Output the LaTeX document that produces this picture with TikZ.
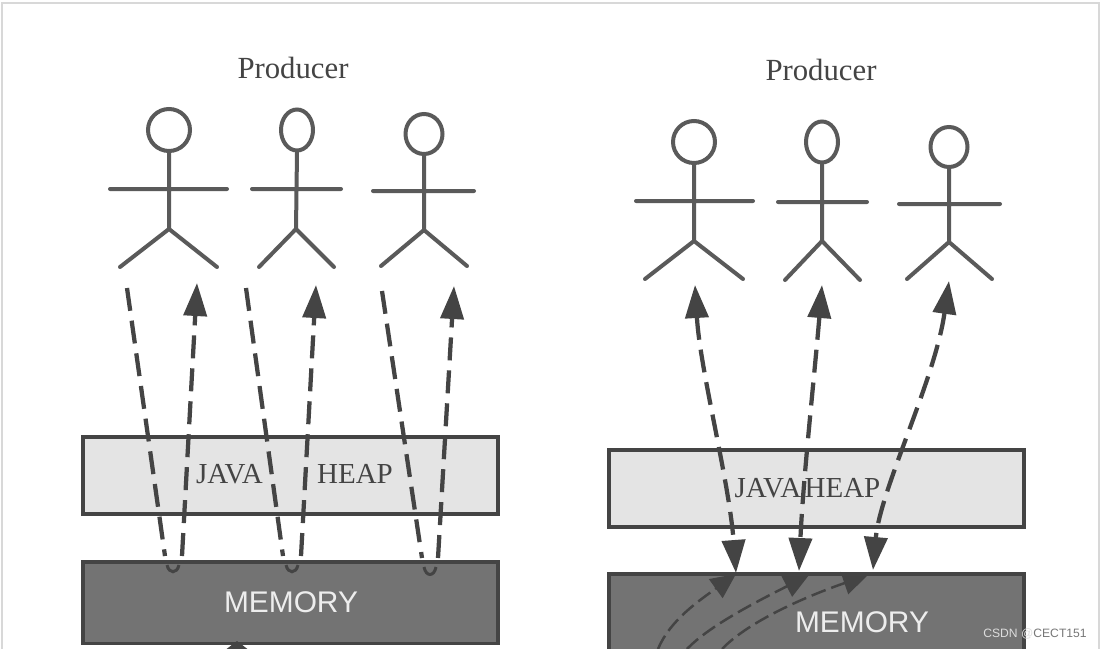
\documentclass[tikz,border=0pt]{standalone}
\usepackage{fontspec}
\setmainfont{Liberation Serif}
\setsansfont{Liberation Sans}
\usetikzlibrary{arrows.meta,shapes.geometric}
\definecolor{Ink}{HTML}{444444}
\definecolor{Limb}{HTML}{5A5A5A}
\definecolor{Heap}{HTML}{E4E4E4}
\definecolor{Memory}{HTML}{737373}
\definecolor{Frame}{HTML}{D8D8D8}
\definecolor{MemText}{HTML}{EDEDED}
\definecolor{MarkLight}{HTML}{DDDDDD}
\definecolor{MarkDark}{HTML}{777777}
\begin{document}
\begin{tikzpicture}[x=0.02cm,y=-0.02cm,font=\rmfamily,text=Ink,head/.style={draw=Limb,line width=0.8mm,shape=ellipse,inner sep=0pt},limb/.style={draw=Limb,line width=0.8mm,line cap=round},title/.style={font=\fontsize{17.5}{20}\selectfont},heapbox/.style={draw=Ink,fill=Heap,line width=0.8mm,minimum width=8.3cm,minimum height=1.56cm,inner sep=0pt},membox/.style={draw=Ink,fill=Memory,line width=0.8mm,minimum width=8.3cm,minimum height=1.64cm,inner sep=0pt},heaplabel/.style={font=\fontsize{16.5}{20}\selectfont},memlabel/.style={text=MemText,font=\sffamily\fontsize{17}{20}\selectfont},flow/.style={draw=Ink,line width=0.85mm,dash pattern=on 4.6mm off 2mm},up/.style={flow,-{Triangle[length=6.6mm,width=4.6mm]}},both/.style={flow,{Triangle[length=6.6mm,width=4.6mm]}-{Triangle[length=6.6mm,width=4.6mm]}},inner/.style={draw=Ink,line width=0.5mm,dash pattern=on 3mm off 1.2mm,-{Triangle[length=5mm,width=4.6mm]}},cup/.style={draw=Ink,line width=0.6mm}]
\clip (0,0) rectangle (1102,649);
\fill[white] (0,0) rectangle (1102,649);
\draw[Frame,line width=0.5mm] (2,3) rectangle (1099,700);
\node[title] (prodL) at (293,68){Producer};
\node[title] (prodR) at (821,70){Producer};
\node[head,minimum width=0.84cm,minimum height=0.84cm] (headA) at (169,130){};
\node[head,minimum width=0.64cm,minimum height=0.82cm] (headB) at (297,130){};
\node[head,minimum width=0.74cm,minimum height=0.8cm] (headC) at (424,134){};
\node[head,minimum width=0.84cm,minimum height=0.84cm] (headD) at (694,142){};
\node[head,minimum width=0.64cm,minimum height=0.82cm] (headE) at (822,142){};
\node[head,minimum width=0.74cm,minimum height=0.8cm] (headF) at (949,147){};
\draw[limb] (headA.south) -- (169,229) (110,189) -- (227,189) (120,267) -- (169,229) -- (217,267);
\draw[limb] (headB.south) -- (296,229) (252,189) -- (341,189) (259,267) -- (296,229) -- (334,267);
\draw[limb] (headC.south) -- (424,230) (373,191) -- (474,191) (381,266) -- (424,230) -- (467,266);
\draw[limb] (headD.south) -- (694,241) (636,201) -- (753,201) (645,279) -- (694,241) -- (743,279);
\draw[limb] (headE.south) -- (822,241) (778,202) -- (867,202) (785,280) -- (822,241) -- (860,280);
\draw[limb] (headF.south) -- (949,242) (899,204) -- (1000,204) (907,279) -- (949,242) -- (992,279);
\node[heapbox] (heapL) at (290.5,475.5){};
\node[membox] (memL) at (290.5,602.5){};
\node[heapbox] (heapR) at (816.5,488.5){};
\node[membox] (memR) at (816.5,615){};
\node[heaplabel] (javaL) at (229.5,474){JAVA};
\node[heaplabel] (heapTextL) at (355,474){HEAP};
\node[heaplabel] (javaR) at (768,488){JAVA};
\node[heaplabel] (heapTextR) at (842.5,488){HEAP};
\node[memlabel] (memTextL) at (291,602){MEMORY};
\node[memlabel] (memTextR) at (862,622){MEMORY};
\node[font=\sffamily\fontsize{6.9}{9}\selectfont,text=MarkDark] (mark) at (1035,634){\textcolor{MarkLight}{CSDN @}CECT151};
\coordinate (a1) at (127,288);
\coordinate (a2) at (165,556);
\coordinate (a3) at (182,556);
\coordinate (a4) at (197,283);
\coordinate (b1) at (246,288);
\coordinate (b2) at (283,556);
\coordinate (b3) at (301,556);
\coordinate (b4) at (316,285);
\coordinate (c1) at (382,291);
\coordinate (c2) at (422,558);
\coordinate (c3) at (438,558);
\coordinate (c4) at (454,286);
\draw[flow] (a1) -- (a2);
\draw[up] (a3) -- (a4);
\draw[flow] (b1) -- (b2);
\draw[up] (b3) -- (b4);
\draw[flow] (c1) -- (c2);
\draw[up] (c3) -- (c4);
\draw[cup] (167,565) .. controls (169,574) and (177,574) .. (179,565);
\draw[cup] (286,565) .. controls (288,574) and (296,574) .. (298,565);
\draw[cup] (424,567) .. controls (426,577) and (434,577) .. (436,567);
\coordinate (d1) at (695,285);
\coordinate (d2) at (736,573);
\coordinate (e1) at (822,285);
\coordinate (e2) at (799,571);
\coordinate (f1) at (949,281);
\coordinate (f2) at (873,570);
\draw[both] (d1) .. controls (700,370) and (729,480) .. (d2);
\draw[both] (e1) .. controls (815,370) and (803,480) .. (e2);
\draw[both] (f1) .. controls (935,380) and (880,490) .. (f2);
\coordinate (g1) at (658,649);
\coordinate (g2) at (736,574);
\coordinate (h1) at (687,649);
\coordinate (h2) at (809,575);
\coordinate (i1) at (722,649);
\coordinate (i2) at (868,575);
\draw[inner] (g1) .. controls (670,620) and (700,600) .. (g2);
\draw[inner] (h1) .. controls (710,625) and (760,600) .. (h2);
\draw[inner] (i1) .. controls (750,620) and (810,595) .. (i2);
\coordinate (bottomTail) at (237,700);
\coordinate (bottomTip) at (237,641);
\draw[draw=Ink,line width=0.85mm,-{Triangle[length=1.8mm,width=4.6mm]}] (bottomTail) -- (bottomTip);
\end{tikzpicture}
\end{document}
